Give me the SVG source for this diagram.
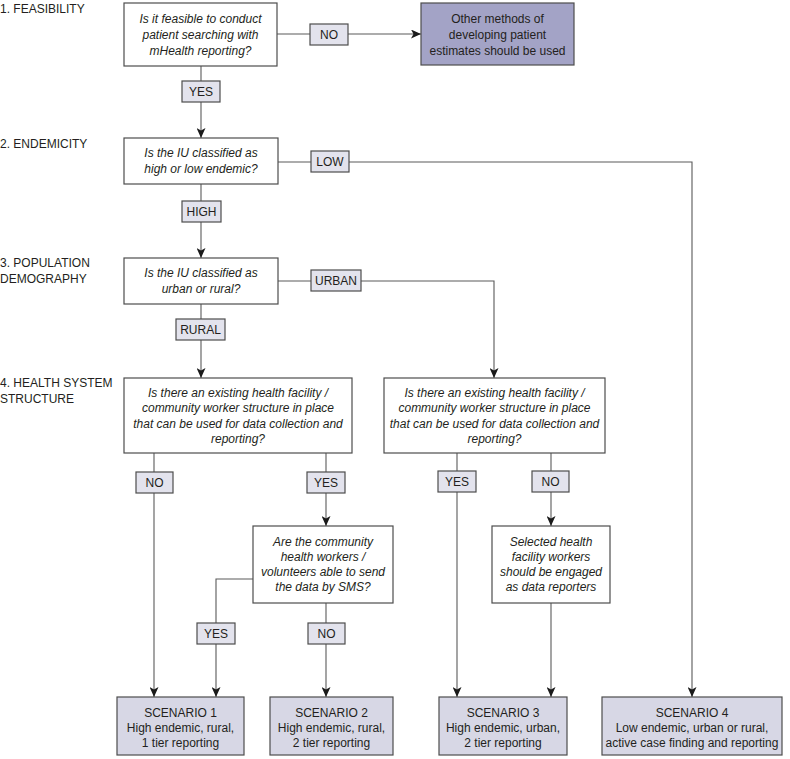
<svg xmlns="http://www.w3.org/2000/svg" width="790" height="759" viewBox="0 0 790 759">
<defs>
<style>
text{font-family:"Liberation Sans",Arial,Helvetica,sans-serif;font-size:12px;fill:#231f20}
.c{text-anchor:middle}
.q{font-style:italic}
.box{fill:#ffffff;stroke:#4d4d4d;stroke-width:1.2}
.other{fill:#a3a3c6;stroke:#4d4d4d;stroke-width:1.2}
.scn{fill:#d7d7e5;stroke:#4d4d4d;stroke-width:1.2}
.lbl{fill:#e3e3ed;stroke:#4d4d4d;stroke-width:1.2}
.ln{fill:none;stroke:#5a5a5a;stroke-width:1.1}
.arr{marker-end:url(#ah)}
</style>
<marker id="ah" markerUnits="userSpaceOnUse" markerWidth="10" markerHeight="9" refX="10" refY="4.5" orient="auto">
<path d="M0,0 L10,4.5 L0,9 L2.5,4.5 Z" fill="#1a1a1a"/>
</marker>
</defs>
<rect width="790" height="759" fill="#ffffff"/>

<g id="section-labels">
<text x="0" y="13">1. FEASIBILITY</text>
<text x="0" y="148">2. ENDEMICITY</text>
<text x="0" y="267">3. POPULATION</text>
<text x="0" y="283">DEMOGRAPHY</text>
<text x="0" y="387">4. HEALTH SYSTEM</text>
<text x="0" y="403">STRUCTURE</text>
</g>

<g id="connectors">
<path class="ln arr" d="M277,34 H421"/>
<path class="ln arr" d="M201,66 V138"/>
<path class="ln arr" d="M278,162 H692 V697"/>
<path class="ln arr" d="M201,184 V258"/>
<path class="ln arr" d="M278,281 H494 V378"/>
<path class="ln arr" d="M201,304 V378"/>
<path class="ln arr" d="M154,453 V697"/>
<path class="ln arr" d="M326,453 V526"/>
<path class="ln arr" d="M457,453 V697"/>
<path class="ln arr" d="M551,453 V526"/>
<path class="ln arr" d="M253,579 H216 V697"/>
<path class="ln arr" d="M326,603 V697"/>
<path class="ln arr" d="M551,603 V697"/>
</g>

<g id="edge-labels">
<g id="lbl-no-1"><rect class="lbl" x="310" y="24" width="38" height="21"/><text class="c" x="329" y="39">NO</text></g>
<g id="lbl-yes-1"><rect class="lbl" x="182" y="81" width="38" height="21"/><text class="c" x="201" y="96">YES</text></g>
<g id="lbl-low"><rect class="lbl" x="311" y="151" width="38" height="21"/><text class="c" x="330" y="166">LOW</text></g>
<g id="lbl-high"><rect class="lbl" x="182" y="201" width="39" height="21"/><text class="c" x="201.5" y="216">HIGH</text></g>
<g id="lbl-urban"><rect class="lbl" x="311" y="270" width="50" height="21"/><text class="c" x="336" y="285">URBAN</text></g>
<g id="lbl-rural"><rect class="lbl" x="176" y="319" width="49" height="21"/><text class="c" x="200.5" y="334">RURAL</text></g>
<g id="lbl-no-2"><rect class="lbl" x="136" y="472" width="37" height="21"/><text class="c" x="154.5" y="487">NO</text></g>
<g id="lbl-yes-2"><rect class="lbl" x="307" y="472" width="38" height="21"/><text class="c" x="326" y="487">YES</text></g>
<g id="lbl-yes-3"><rect class="lbl" x="438" y="471" width="38" height="21"/><text class="c" x="457" y="486">YES</text></g>
<g id="lbl-no-3"><rect class="lbl" x="532" y="471" width="37" height="21"/><text class="c" x="550.5" y="486">NO</text></g>
<g id="lbl-yes-4"><rect class="lbl" x="197" y="623" width="38" height="21"/><text class="c" x="216" y="638">YES</text></g>
<g id="lbl-no-4"><rect class="lbl" x="308" y="623" width="37" height="21"/><text class="c" x="326.5" y="638">NO</text></g>
</g>

<g id="node-feasibility">
<rect class="box" x="124" y="3" width="153" height="63"/>
<text class="c q" x="200.5" y="23">Is it feasible to conduct</text>
<text class="c q" x="200.5" y="39">patient searching with</text>
<text class="c q" x="200.5" y="55">mHealth reporting?</text>
</g>

<g id="node-other-methods">
<rect class="other" x="421" y="3" width="153" height="62"/>
<text class="c" x="497.5" y="23">Other methods of</text>
<text class="c" x="497.5" y="39">developing patient</text>
<text class="c" x="497.5" y="55">estimates should be used</text>
</g>

<g id="node-endemicity">
<rect class="box" x="124" y="138" width="154" height="46"/>
<text class="c q" x="201" y="157">Is the IU classified as</text>
<text class="c q" x="201" y="173">high or low endemic?</text>
</g>

<g id="node-demography">
<rect class="box" x="124" y="258" width="154" height="46"/>
<text class="c q" x="201" y="277">Is the IU classified as</text>
<text class="c q" x="201" y="293">urban or rural?</text>
</g>

<g id="node-health-rural">
<rect class="box" x="124" y="378" width="228" height="75"/>
<text class="c q" x="238" y="396.5">Is there an existing health facility /</text>
<text class="c q" x="238" y="412">community worker structure in place</text>
<text class="c q" x="238" y="427.5">that can be used for data collection and</text>
<text class="c q" x="238" y="443">reporting?</text>
</g>

<g id="node-health-urban">
<rect class="box" x="384" y="378" width="221" height="75"/>
<text class="c q" x="494.5" y="396.5">Is there an existing health facility /</text>
<text class="c q" x="494.5" y="412">community worker structure in place</text>
<text class="c q" x="494.5" y="427.5">that can be used for data collection and</text>
<text class="c q" x="494.5" y="443">reporting?</text>
</g>

<g id="node-sms">
<rect class="box" x="253" y="526" width="140" height="77"/>
<text class="c q" x="323" y="546">Are the community</text>
<text class="c q" x="323" y="561">health workers /</text>
<text class="c q" x="323" y="576">volunteers able to send</text>
<text class="c q" x="323" y="591">the data by SMS?</text>
</g>

<g id="node-selected">
<rect class="box" x="492" y="526" width="118" height="77"/>
<text class="c q" x="551" y="546">Selected health</text>
<text class="c q" x="551" y="561">facility workers</text>
<text class="c q" x="551" y="576">should be engaged</text>
<text class="c q" x="551" y="591">as data reporters</text>
</g>

<g id="node-scenario-1">
<rect class="scn" x="117" y="697" width="127" height="58"/>
<text class="c" x="180.5" y="716.5">SCENARIO 1</text>
<text class="c" x="180.5" y="731.5">High endemic, rural,</text>
<text class="c" x="180.5" y="746.5">1 tier reporting</text>
</g>

<g id="node-scenario-2">
<rect class="scn" x="270" y="697" width="123" height="58"/>
<text class="c" x="331.5" y="716.5">SCENARIO 2</text>
<text class="c" x="331.5" y="731.5">High endemic, rural,</text>
<text class="c" x="331.5" y="746.5">2 tier reporting</text>
</g>

<g id="node-scenario-3">
<rect class="scn" x="439" y="697" width="128" height="58"/>
<text class="c" x="503" y="716.5">SCENARIO 3</text>
<text class="c" x="503" y="731.5">High endemic, urban,</text>
<text class="c" x="503" y="746.5">2 tier reporting</text>
</g>

<g id="node-scenario-4">
<rect class="scn" x="602" y="697" width="180" height="58"/>
<text class="c" x="692" y="716.5">SCENARIO 4</text>
<text class="c" x="692" y="731.5">Low endemic, urban or rural,</text>
<text class="c" x="692" y="746.5">active case finding and reporting</text>
</g>
</svg>
